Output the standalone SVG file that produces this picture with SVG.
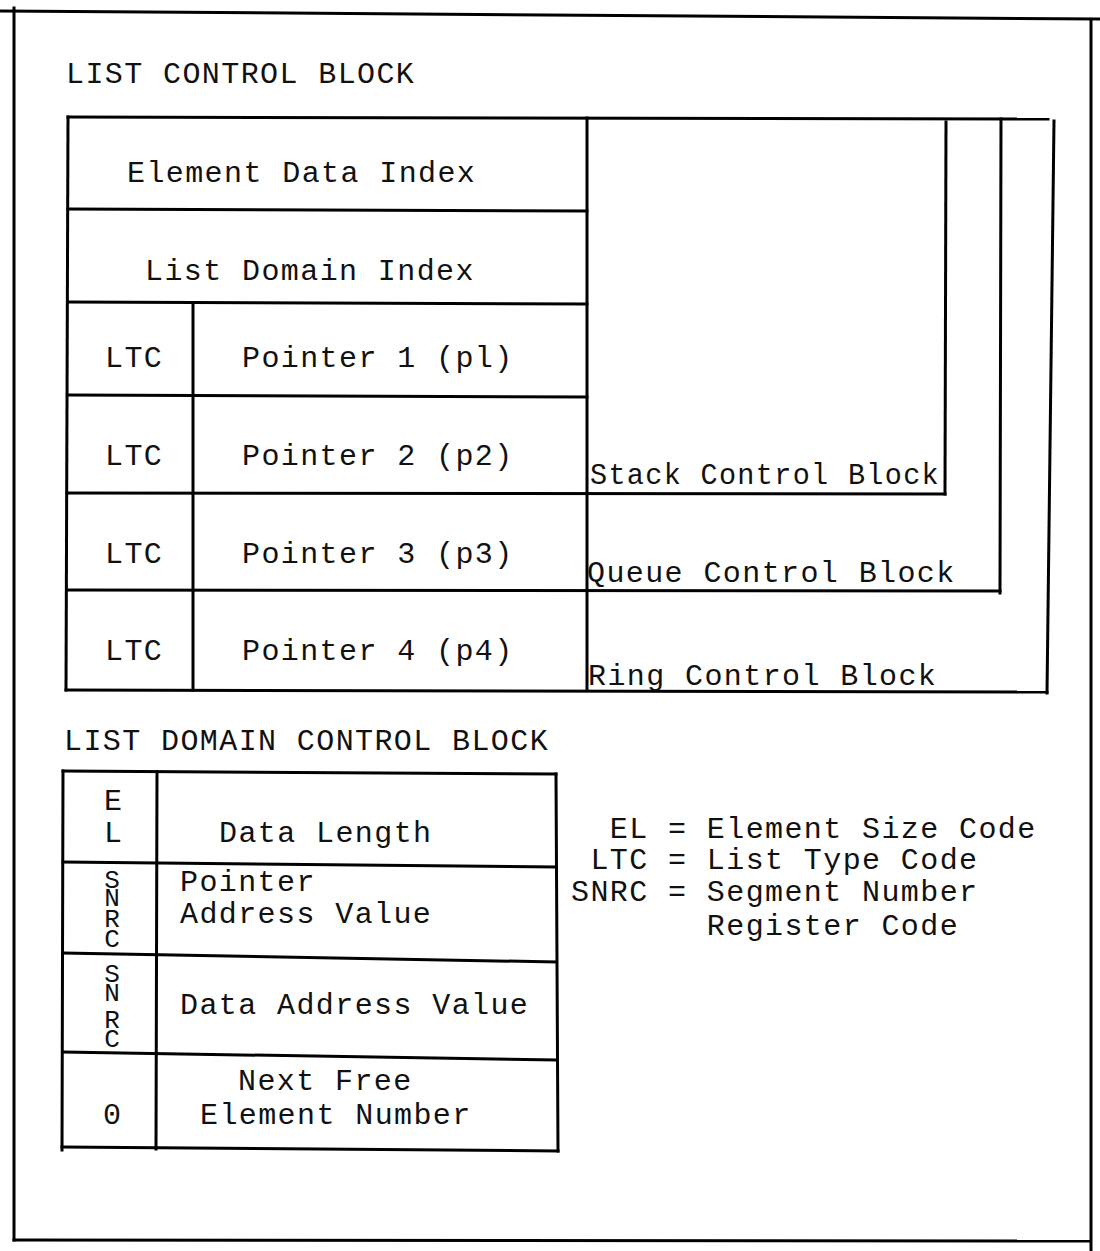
<svg xmlns="http://www.w3.org/2000/svg" width="1100" height="1251" viewBox="0 0 1100 1251">
  <style>
    .ln { stroke: #000; stroke-width: 3; fill: none; stroke-linecap: square; }
    text { font-family: "Liberation Mono", "DejaVu Sans Mono", monospace; font-size: 30px; letter-spacing: 1.4px; fill: #111; }
    .tag { letter-spacing: 0; }
    .stk { font-size: 26px; letter-spacing: 0; }
  </style>
  <rect width="1100" height="1251" fill="#fff"/>

  <!-- page frame -->
  <g id="frame">
    <line class="ln" x1="0" y1="11" x2="1100" y2="19"/>
    <line class="ln" x1="14" y1="8" x2="14" y2="1240"/>
    <line class="ln" x1="1091" y1="20" x2="1091" y2="1251"/>
    <line class="ln" x1="14" y1="1240" x2="1089" y2="1241"/>
  </g>

  <text x="66" y="83">LIST CONTROL BLOCK</text>

  <!-- list control block -->
  <g id="list-control-block">
    <line class="ln" x1="68" y1="117" x2="1048" y2="119"/>
    <line class="ln" x1="68" y1="117" x2="66" y2="690"/>
    <line class="ln" x1="587" y1="118" x2="587" y2="690"/>
    <line class="ln" x1="193" y1="303" x2="193" y2="690"/>
    <line class="ln" x1="68" y1="209" x2="587" y2="211"/>
    <line class="ln" x1="68" y1="302" x2="587" y2="304"/>
    <line class="ln" x1="68" y1="395" x2="587" y2="397"/>
  </g>
  <g id="element-data-index"><text x="127" y="182">Element Data Index</text></g>
  <g id="list-domain-index"><text x="145" y="280">List Domain Index</text></g>
  <g id="pointer-1">
    <text x="105" y="367">LTC</text>
    <text x="242" y="367">Pointer 1 (pl)</text>
  </g>
  <g id="pointer-2">
    <text x="105" y="465">LTC</text>
    <text x="242" y="465">Pointer 2 (p2)</text>
  </g>
  <g id="pointer-3">
    <text x="105" y="563">LTC</text>
    <text x="242" y="563">Pointer 3 (p3)</text>
  </g>
  <g id="pointer-4">
    <text x="105" y="660">LTC</text>
    <text x="242" y="660">Pointer 4 (p4)</text>
  </g>

  <!-- nested stack / queue / ring outlines -->
  <g id="stack-control-block">
    <line class="ln" x1="946" y1="122" x2="945" y2="494"/>
    <line class="ln" x1="67" y1="493" x2="945" y2="494"/>
    <text x="590" y="484" textLength="350" lengthAdjust="spacingAndGlyphs">Stack Control Block</text>
  </g>
  <g id="queue-control-block">
    <line class="ln" x1="1001" y1="119" x2="1000" y2="593"/>
    <line class="ln" x1="67" y1="590" x2="1000" y2="591"/>
    <text x="587" y="582">Queue Control Block</text>
  </g>
  <g id="ring-control-block">
    <line class="ln" x1="1054" y1="121" x2="1047" y2="693"/>
    <line class="ln" x1="66" y1="690" x2="1047" y2="692"/>
    <text x="588" y="685">Ring Control Block</text>
  </g>

  <text x="64" y="750">LIST DOMAIN CONTROL BLOCK</text>

  <!-- list domain control block -->
  <g id="list-domain-control-block">
    <line class="ln" x1="63" y1="771" x2="556" y2="774"/>
    <line class="ln" x1="63" y1="771" x2="62" y2="1150"/>
    <line class="ln" x1="556" y1="774" x2="558" y2="1151"/>
    <line class="ln" x1="157" y1="772" x2="156" y2="1149"/>
    <line class="ln" x1="63" y1="862" x2="556" y2="867"/>
    <line class="ln" x1="63" y1="953" x2="556" y2="962"/>
    <line class="ln" x1="63" y1="1052" x2="556" y2="1060"/>
    <line class="ln" x1="62" y1="1147" x2="558" y2="1151"/>
  </g>
  <g id="data-length">
    <text class="tag" x="113" y="810" text-anchor="middle">E</text>
    <text class="tag" x="113" y="842" text-anchor="middle">L</text>
    <text x="219" y="842">Data Length</text>
  </g>
  <g id="pointer-address-value">
    <text class="stk" x="112" y="888" text-anchor="middle">S</text>
    <text class="stk" x="112" y="906" text-anchor="middle">N</text>
    <text class="stk" x="112" y="927" text-anchor="middle">R</text>
    <text class="stk" x="112" y="947" text-anchor="middle">C</text>
    <text x="180" y="891">Pointer</text>
    <text x="180" y="923">Address Value</text>
  </g>
  <g id="data-address-value">
    <text class="stk" x="112" y="982" text-anchor="middle">S</text>
    <text class="stk" x="112" y="1001" text-anchor="middle">N</text>
    <text class="stk" x="112" y="1028" text-anchor="middle">R</text>
    <text class="stk" x="112" y="1047" text-anchor="middle">C</text>
    <text x="180" y="1014">Data Address Value</text>
  </g>
  <g id="next-free-element">
    <text class="tag" x="112" y="1124" text-anchor="middle">0</text>
    <text x="238" y="1090">Next Free</text>
    <text x="200" y="1124">Element Number</text>
  </g>

  <!-- abbreviations -->
  <g id="legend">
    <text x="571" y="838" xml:space="preserve">  EL = Element Size Code</text>
    <text x="571" y="869" xml:space="preserve"> LTC = List Type Code</text>
    <text x="571" y="901" xml:space="preserve">SNRC = Segment Number</text>
    <text x="571" y="935" xml:space="preserve">       Register Code</text>
  </g>
</svg>
